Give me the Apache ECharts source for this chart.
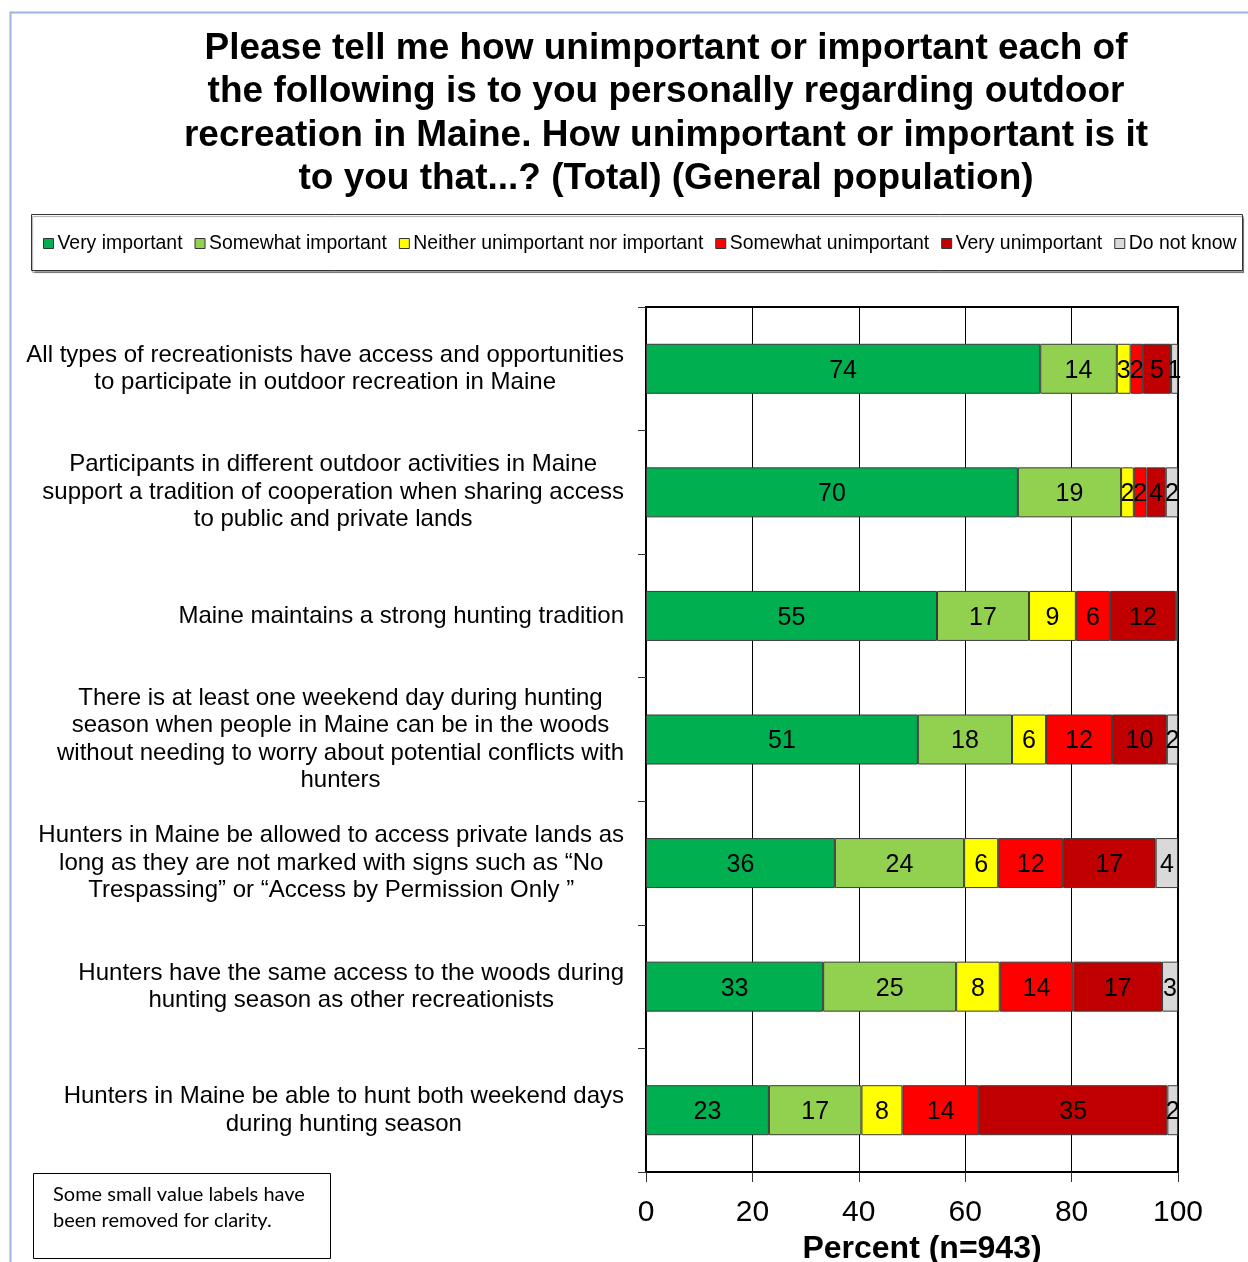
<!DOCTYPE html>
<html>
<head>
<meta charset="utf-8">
<script src="https://cdn.jsdelivr.net/npm/echarts@6/dist/echarts.min.js"></script>
<style>html,body{margin:0;padding:0;background:#fff;}#c{width:1248px;height:1262px;}</style>
</head>
<body>
<div id="c"></div>
<script>
var categories = [
  "All types of recreationists have access and opportunities\nto participate in outdoor recreation in Maine",
  "Participants in different outdoor activities in Maine\nsupport a tradition of cooperation when sharing access\nto public and private lands",
  "Maine maintains a strong hunting tradition",
  "There is at least one weekend day during hunting\nseason when people in Maine can be in the woods\nwithout needing to worry about potential conflicts with\nhunters",
  "Hunters in Maine be allowed to access private lands as\nlong as they are not marked with signs such as “No\nTrespassing” or “Access by Permission Only ”",
  "Hunters have the same access to the woods during\nhunting season as other recreationists",
  "Hunters in Maine be able to hunt both weekend days\nduring hunting season"
];
var seriesNames = ["Very important","Somewhat important","Neither unimportant nor important","Somewhat unimportant","Very unimportant","Do not know"];
var veryImportant       = [74.1, 69.9, 54.7, 51.1, 35.5, 33.3, 23.1];
var somewhatImportant   = [14.4, 19.4, 17.3, 17.7, 24.3, 25.0, 17.4];
var neither             = [2.6, 2.4, 8.8, 6.4, 6.4, 8.2, 7.7];
var somewhatUnimportant = [2.3, 2.4, 6.4, 12.4, 12.2, 13.8, 14.4];
var veryUnimportant     = [5.3, 3.6, 12.4, 10.3, 17.4, 16.7, 35.4];
var doNotKnow           = [1.3, 2.3, 0.4, 2.1, 4.2, 3.0, 2.0];
var xTicks = [0, 20, 40, 60, 80, 100];

var colors = ["#00B050","#92D050","#FFFF00","#FF0000","#C00000","#D9D9D9"];
var allData = [veryImportant, somewhatImportant, neither, somewhatUnimportant, veryUnimportant, doNotKnow];
var FONT = "Arial";

var chart = echarts.init(document.getElementById('c'));
var series = allData.map(function (d, i) {
  return {
    name: seriesNames[i],
    type: 'bar',
    stack: 'total',
    barWidth: 50,
    data: d,
    itemStyle: { color: colors[i], borderColor: '#3a3a3a', borderWidth: 1 },
    label: {
      show: true, position: 'inside', offset: [0, 2], color: '#000', fontSize: 25, fontFamily: FONT,
      formatter: function (p) { var r = Math.round(p.value); return r >= 1 ? String(r) : ''; }
    },
    emphasis: { disabled: true }
  };
});

chart.setOption({
  animation: false,
  backgroundColor: '#fff',
  title: {
    text: "Please tell me how unimportant or important each of\nthe following is to you personally regarding outdoor\nrecreation in Maine. How unimportant or important is it\nto you that...? (Total) (General population)",
    left: 661, top: 22, textAlign: 'center',
    textStyle: { fontSize: 37, fontWeight: 'bold', fontFamily: FONT, color: '#000', lineHeight: 43.5 }
  },
  legend: {
    left: 38, top: 229, width: 1220,
    itemWidth: 10, itemHeight: 10, itemGap: 12,
    icon: 'rect',
    itemStyle: { borderColor: '#333', borderWidth: 1 },
    textStyle: { fontSize: 19.4, fontFamily: FONT, color: '#000', padding: [0, 0, 0, -1] },
    data: seriesNames
  },
  grid: { left: 646, right: 70, top: 307, bottom: 90, show: true, borderColor: '#000', borderWidth: 2, containLabel: false, outerBoundsMode: 'none' },
  xAxis: {
    type: 'value', min: 0, max: 100, interval: 20,
    axisLine: { show: true, lineStyle: { color: '#000', width: 2 } },
    axisTick: { show: true, length: 10, lineStyle: { color: '#333', width: 1 } },
    axisLabel: { fontSize: 30, fontFamily: FONT, color: '#000', margin: 26,
      formatter: function (v) { return xTicks.indexOf(v) >= 0 ? String(v) : ''; } },
    splitLine: { show: true, lineStyle: { color: '#000', width: 1 } },
    name: 'Percent (n=943)', nameLocation: 'middle', nameGap: 61,
    nameTextStyle: { fontSize: 32, fontWeight: 'bold', fontFamily: FONT, color: '#000', padding: [0, 0, 0, 20] }
  },
  yAxis: {
    type: 'category', inverse: true, data: categories,
    axisLine: { show: true, lineStyle: { color: '#000', width: 2 } },
    axisTick: { show: true, length: 8, lineStyle: { color: '#333' } },
    axisLabel: {
      interval: 0, margin: 22, align: 'right',
      formatter: function (v) { return v.split('\n').map(function (l) { return '{c|' + l + '}'; }).join('\n'); },
      rich: { c: { align: 'center', fontSize: 24, lineHeight: 27.5, fontFamily: FONT, color: '#000' } }
    }
  },
  graphic: [
    { type: 'rect', silent: true, z: -10, shape: { x: 10.5, y: 12.5, width: 1300, height: 1300 }, style: { fill: 'none', stroke: '#9DB3DE', lineWidth: 2 } },
    { type: 'rect', silent: true, z: -5, shape: { x: 31.5, y: 214.5, width: 1211, height: 56 }, style: { fill: '#fff', stroke: '#333', lineWidth: 1, shadowColor: 'rgba(0,0,0,0.35)', shadowOffsetX: 1, shadowOffsetY: 2, shadowBlur: 1 } },
    { type: 'rect', silent: true, shape: { x: 33.5, y: 1173.5, width: 297, height: 85 }, style: { fill: '#fff', stroke: '#000', lineWidth: 1 } },
    { type: 'text', silent: true, left: 53, top: 1182, style: { text: 'Some small value labels have\nbeen removed for clarity.', fontSize: 20, lineHeight: 26, fontFamily: 'Lato, sans-serif', fill: '#000' } }
  ],
  series: series
});
</script>
</body>
</html>
